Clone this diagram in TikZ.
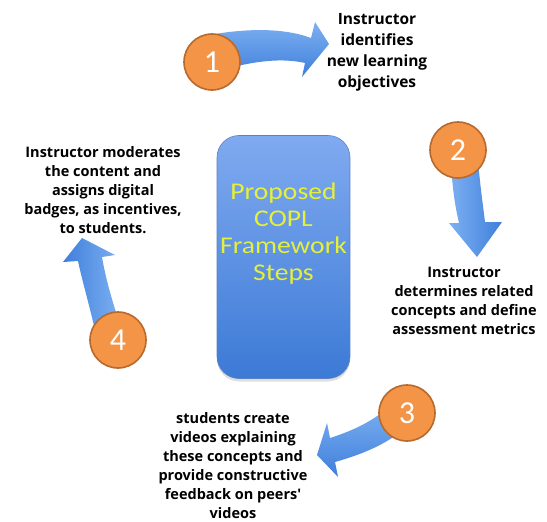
\documentclass[tikz,border=0pt]{standalone}
\usepackage{fontspec}
\setmainfont{Open Sans}[Ligatures=TeXOff]
\newfontfamily\calfont{Carlito}
\newfontfamily\widecalfont{Carlito}[FakeStretch=1.15]
\usetikzlibrary{shadows}
\definecolor{arrowlight}{HTML}{7DB0F2}
\definecolor{arrowdark}{HTML}{3F7FDA}
\definecolor{boxtop}{HTML}{80AAF0}
\definecolor{boxbot}{HTML}{3C7AD6}
\definecolor{boxedge}{HTML}{5A82C4}
\definecolor{badgefill}{HTML}{F39447}
\definecolor{badgeedge}{HTML}{B8692C}
\definecolor{titleyellow}{HTML}{E4F03A}
\begin{document}
\begin{tikzpicture}[x=1pt,y=-1pt,
  badge/.style={circle, minimum size=56pt, inner sep=0pt, fill=badgefill,
    draw=badgeedge, line width=1.6pt, text=white,
    font=\calfont\fontsize{32}{32}\selectfont},
  steptext/.style={align=center, text=black,
    font=\bfseries\fontsize{14.5}{19}\selectfont},
  blockarrow/.style={top color=arrowlight, bottom color=arrowdark}]
\useasboundingbox (0,0) rectangle (547,522);

% central title panel
\node[draw=boxedge, line width=0.6pt, rounded corners=22pt,
  top color=boxtop, bottom color=boxbot,
  minimum width=133pt, minimum height=243pt,
  drop shadow={opacity=0.25, shadow xshift=0pt, shadow yshift=-3pt}]
  (box) at (283.5,257) {};
\node[text=titleyellow, align=center,
  font=\widecalfont\fontsize{24}{27}\selectfont] (title) at (283.5,234)
  {Proposed\\COPL\\Framework\\Steps};

% curved block arrows leaving each step badge
\shade[blockarrow] (215,34) .. controls (258,27) and (290,30) .. (311,38)
  -- (315,22) -- (329,44) -- (302,77) -- (305,63)
  .. controls (283,58) and (255,60) .. (215,72) -- cycle;
\shade[blockarrow, left color=arrowlight, right color=arrowdark]
  (451,160) .. controls (452,190) and (456,210) .. (459,223)
  -- (449,223) -- (477,257) -- (502,222) -- (485,222)
  .. controls (483,205) and (480,185) .. (478,160) -- cycle;
\shade[blockarrow] (392,404) .. controls (375,420) and (355,430) .. (330,438)
  -- (327,423) -- (317,455) -- (338,477) -- (335,462)
  .. controls (360,455) and (385,445) .. (401,431) -- cycle;
\shade[blockarrow, left color=arrowdark, right color=arrowlight]
  (95,330) .. controls (88,300) and (82,280) .. (78,261)
  -- (63,262) -- (82,238) -- (115,255) -- (102,257)
  .. controls (106,280) and (112,300) .. (120,325) -- cycle;

% numbered step badges
\node[badge] (c1) at (212,62) {1};
\node[badge] (c2) at (458,150) {2};
\node[badge] (c3) at (407,413) {3};
\node[badge] (c4) at (118,340) {4};

% step descriptions
\node[steptext, font=\bfseries\fontsize{15.5}{21}\selectfont] (t1) at (377,52)
  {Instructor\\identifies\\new learning\\objectives};
\node[steptext] (t2) at (464,301)
  {Instructor\\determines related\\concepts and define\\assessment metrics};
\node[steptext] (t3) at (233,466)
  {students create\\videos explaining\\these concepts and\\provide constructive\\feedback on peers'\\videos};
\node[steptext] (t4) at (103,190)
  {Instructor moderates\\the content and\\assigns digital\\badges, as incentives,\\to students.};
\end{tikzpicture}
\end{document}
